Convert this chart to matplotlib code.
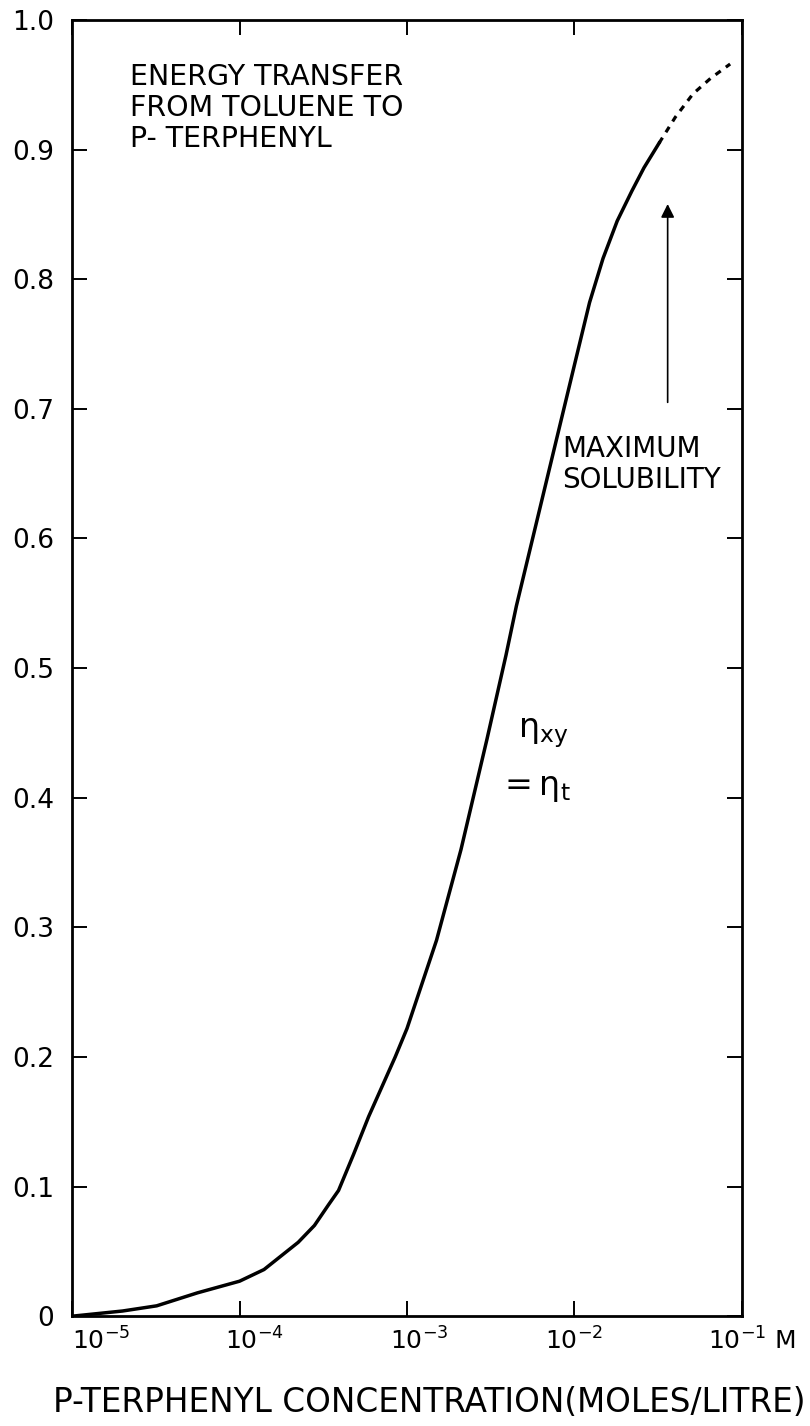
import numpy as np
from matplotlib import pyplot as plt
from matplotlib.transforms import ScaledTranslation

# values
conc = [1e-5, 2e-5, 3.2e-5, 5.6e-5, 1e-4, 1.4e-4, 2.24e-4, 2.8e-4, 3.4e-4, 3.9e-4,
        4.8e-4, 5.9e-4, 8.5e-4, 1e-3, 1.5e-3, 2.1e-3, 3e-3, 3.9e-3, 4.5e-3,
        7e-3, 1e-2, 1.23e-2, 1.48e-2, 1.8e-2, 2.2e-2, 2.6e-2, 3.2e-2]
eff = [0.0, 0.004, 0.008, 0.018, 0.027, 0.036, 0.057, 0.070, 0.086, 0.097,
       0.125, 0.154, 0.20, 0.222, 0.29, 0.36, 0.445, 0.51, 0.548,
       0.651, 0.734, 0.782, 0.816, 0.845, 0.868, 0.886, 0.905]

# extrapolated part beyond maximum solubility
conc_ext = [3.2e-2, 4e-2, 5.1e-2, 6.5e-2, 8.5e-2]
eff_ext = [0.905, 0.925, 0.943, 0.955, 0.966]

x_ticks = [1e-5, 1e-4, 1e-3, 1e-2, 1e-1]
x_labels = ['$10^{-5}$', '$10^{-4}$', '$10^{-3}$', '$10^{-2}$', '$10^{-1}$ M']
y_ticks = [0, 0.1, 0.2, 0.3, 0.4, 0.5, 0.6, 0.7, 0.8, 0.9, 1.0]
y_labels = ['0', '0.1', '0.2', '0.3', '0.4', '0.5', '0.6', '0.7', '0.8', '0.9', '1.0']

max_sol = 3.6e-2


def main():
    plt.rcParams['font.family'] = ['DejaVu Sans']
    plt.rcParams['mathtext.default'] = 'regular'

    fig = plt.figure(figsize=(8.1, 14.26), dpi=100)
    ax = fig.add_axes([0.089, 0.077, 0.827, 0.909])

    ax.plot(conc, eff, color='black', lw=2.5, solid_joinstyle='round')
    ax.plot(conc_ext, eff_ext, color='black', lw=2.3, linestyle=(0, (2.0, 2.0)))

    ax.set_xscale('log')
    ax.set_xlim(1e-5, 1e-1)
    ax.set_ylim(0, 1.0)

    ax.set_xticks(x_ticks)
    ax.set_xticklabels(x_labels)
    ax.minorticks_off()
    ax.set_yticks(y_ticks)
    ax.set_yticklabels(y_labels)

    ax.tick_params(axis='both', direction='in', length=11, width=1.4,
                   top=True, right=True, labelsize=19)
    ax.tick_params(axis='y', pad=13)
    ax.tick_params(axis='x', pad=8, labelsize=18)
    for s in ax.spines.values():
        s.set_linewidth(2.0)

    # hand-lettered labels sit a little right of their ticks
    xlabs = ax.get_xticklabels()
    xlabs[0].set_ha('left')
    for lab, dx in zip(xlabs[1:], [15, 12, 0, 10]):
        lab.set_transform(lab.get_transform() + ScaledTranslation(dx / 100, 0, fig.dpi_scale_trans))

    ax.set_xlabel('P-TERPHENYL CONCENTRATION(MOLES/LITRE)', fontsize=23.5)
    ax.xaxis.set_label_coords(0.533, -0.054)

    ax.text(0.087, 0.932, 'ENERGY TRANSFER\nFROM TOLUENE TO\nP- TERPHENYL',
            transform=ax.transAxes, fontsize=20.5, ha='left', va='center', linespacing=1.15)
    ax.text(0.731, 0.657, 'MAXIMUM\nSOLUBILITY', transform=ax.transAxes,
            fontsize=20, ha='left', va='center', linespacing=1.15)
    ax.text(0.666, 0.45, r'$\eta_{xy}$', transform=ax.transAxes, fontsize=24,
            ha='left', va='center')
    ax.text(0.636, 0.408, r'$=\eta_t$', transform=ax.transAxes, fontsize=24,
            ha='left', va='center')

    # arrow marking maximum solubility
    ax.annotate('', xy=(max_sol, 0.858), xytext=(max_sol, 0.705),
                arrowprops=dict(arrowstyle='-|>', color='black', lw=1.2,
                                mutation_scale=20, shrinkA=0, shrinkB=0))

    fig.savefig('out.png', dpi=100)


if __name__ == "__main__":
    main()
